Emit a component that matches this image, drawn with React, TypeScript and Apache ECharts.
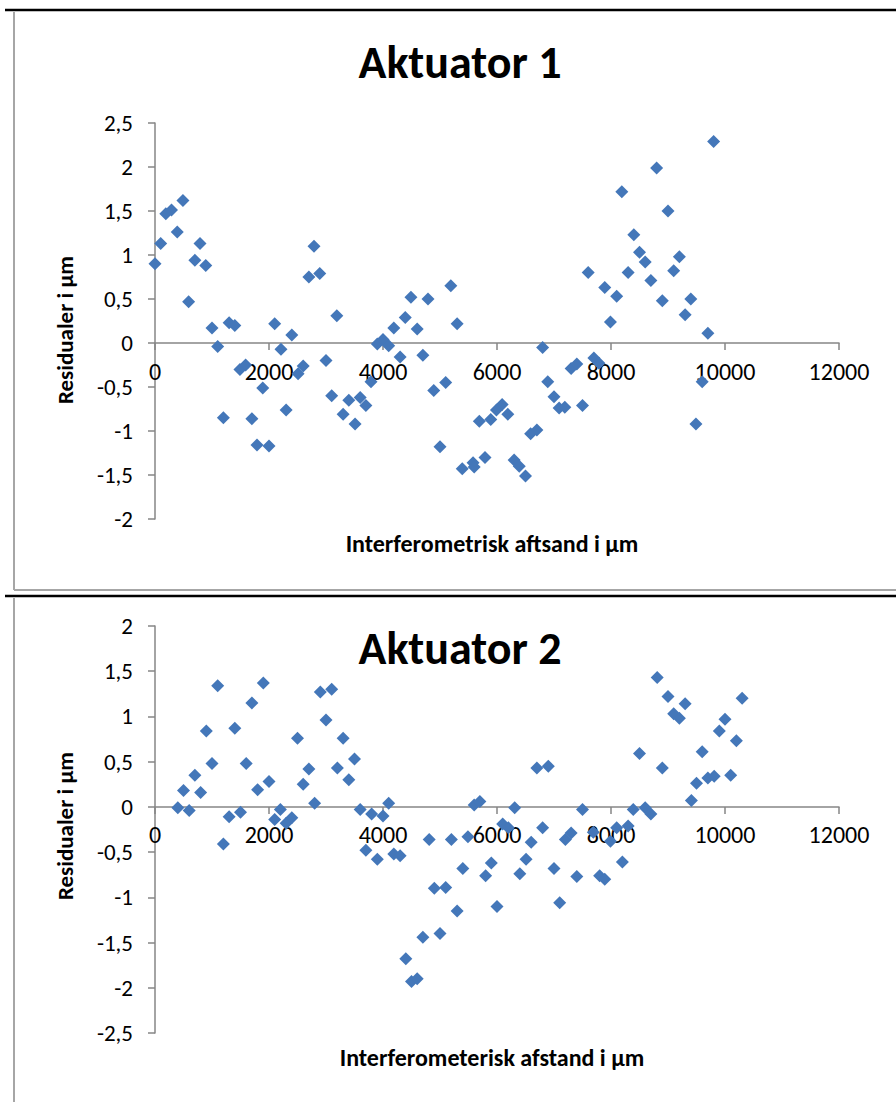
import React, { useEffect, useRef } from "react";
import * as echarts from "echarts";

// Aktuator 1 data
const xs1 = [0, 100, 190, 290, 390, 490, 590, 700, 790, 890, 1000, 1100, 1200, 1300, 1400, 1490, 1590, 1700, 1790, 1890, 2000, 2100, 2210, 2300, 2400, 2510, 2600, 2700, 2790, 2890, 3000, 3100, 3190, 3300, 3400, 3510, 3600, 3700, 3790, 3900, 4000, 4100, 4190, 4300, 4390, 4490, 4600, 4700, 4790, 4890, 5000, 5100, 5190, 5300, 5390, 5580, 5600, 5690, 5790, 5890, 5990, 6090, 6190, 6300, 6390, 6500, 6590, 6700, 6800, 6890, 7000, 7090, 7190, 7300, 7400, 7500, 7600, 7700, 7790, 7890, 7990, 8100, 8190, 8300, 8400, 8500, 8600, 8700, 8800, 8900, 9000, 9100, 9200, 9300, 9400, 9490, 9600, 9700, 9800];
const ys1 = [0.90, 1.13, 1.47, 1.51, 1.26, 1.62, 0.47, 0.94, 1.13, 0.88, 0.17, -0.04, -0.85, 0.23, 0.20, -0.30, -0.25, -0.86, -1.16, -0.51, -1.17, 0.22, -0.07, -0.76, 0.09, -0.35, -0.26, 0.75, 1.10, 0.79, -0.20, -0.60, 0.31, -0.81, -0.65, -0.92, -0.62, -0.71, -0.44, -0.01, 0.04, -0.03, 0.17, -0.16, 0.29, 0.52, 0.16, -0.14, 0.50, -0.54, -1.18, -0.45, 0.65, 0.22, -1.43, -1.36, -1.41, -0.89, -1.30, -0.87, -0.76, -0.70, -0.81, -1.33, -1.40, -1.51, -1.03, -0.99, -0.05, -0.44, -0.61, -0.74, -0.73, -0.29, -0.24, -0.71, 0.80, -0.17, -0.23, 0.63, 0.24, 0.53, 1.72, 0.80, 1.23, 1.03, 0.92, 0.71, 1.99, 0.48, 1.50, 0.82, 0.98, 0.32, 0.50, -0.92, -0.44, 0.11, 2.29];

// Aktuator 2 data
const xs2 = [400, 500, 600, 700, 800, 900, 1000, 1100, 1200, 1300, 1400, 1500, 1600, 1700, 1800, 1900, 2000, 2100, 2200, 2300, 2400, 2500, 2600, 2700, 2800, 2900, 3000, 3100, 3200, 3300, 3400, 3500, 3600, 3700, 3800, 3900, 4000, 4100, 4190, 4300, 4400, 4500, 4600, 4700, 4810, 4900, 5000, 5100, 5200, 5300, 5400, 5490, 5600, 5700, 5800, 5900, 6000, 6100, 6200, 6310, 6400, 6510, 6600, 6700, 6800, 6900, 7000, 7100, 7200, 7300, 7400, 7500, 7690, 7800, 7890, 7990, 8100, 8200, 8300, 8390, 8500, 8600, 8700, 8810, 8900, 9000, 9100, 9200, 9300, 9410, 9500, 9600, 9700, 9810, 9900, 10000, 10100, 10200, 10300];
const ys2 = [-0.01, 0.18, -0.04, 0.35, 0.16, 0.84, 0.48, 1.34, -0.41, -0.11, 0.87, -0.06, 0.48, 1.15, 0.19, 1.37, 0.28, -0.14, -0.03, -0.18, -0.12, 0.76, 0.25, 0.42, 0.04, 1.27, 0.96, 1.30, 0.43, 0.76, 0.30, 0.53, -0.03, -0.48, -0.08, -0.58, -0.10, 0.04, -0.52, -0.54, -1.68, -1.93, -1.90, -1.44, -0.36, -0.90, -1.40, -0.89, -0.36, -1.15, -0.68, -0.33, 0.02, 0.06, -0.76, -0.62, -1.10, -0.19, -0.23, -0.01, -0.74, -0.58, -0.39, 0.43, -0.23, 0.45, -0.68, -1.06, -0.36, -0.29, -0.77, -0.03, -0.28, -0.76, -0.80, -0.38, -0.23, -0.61, -0.21, -0.03, 0.59, -0.01, -0.08, 1.43, 0.43, 1.22, 1.03, 0.98, 1.14, 0.07, 0.26, 0.61, 0.32, 0.34, 0.84, 0.97, 0.35, 0.73, 1.20];

const titles = ["Aktuator 1", "Aktuator 2"];
const yNames = ["Residualer i µm", "Residualer i µm"];
const xNames = ["Interferometrisk aftsand i µm", "Interferometerisk afstand i µm"];
const yRanges = [[-2, 2.5], [-2.5, 2]];
const xRange = [0, 12000];

const FONT = "Carlito, Lato, 'Open Sans', sans-serif";
const AXIS_COLOR = "#868686";
const MARK_COLOR = "#4477b9";

export default function App() {
  const ref = useRef<HTMLDivElement>(null);
  useEffect(() => {
    document.body.style.margin = "0";
    if (!ref.current) return;
    const chart = echarts.init(ref.current, null, { renderer: "svg" });
    const grids = [
      { left: 155, top: 123, width: 684, height: 396 },
      { left: 155, top: 626, width: 684, height: 407 },
    ];
    const fmt = (v: number) => String(v).replace(".", ",");
    const xAxis = [0, 1].map((i) => {
      const [mn, mx] = yRanges[i];
      // place the x axis (line, ticks and labels) on y = 0
      const off = -grids[i].height * (0 - mn) / (mx - mn);
      return {
        type: "value",
        gridIndex: i,
        position: "bottom",
        offset: off,
        min: xRange[0],
        max: xRange[1],
        interval: 2000,
        axisLine: { show: true, onZero: false, lineStyle: { color: AXIS_COLOR, width: 1.5 } },
        axisTick: { show: true, length: 7, lineStyle: { color: AXIS_COLOR, width: 1.5 } },
        axisLabel: { fontSize: 24, color: "#000", margin: 16, fontFamily: FONT, formatter: (v: number) => String(v) },
        splitLine: { show: false },
      };
    });
    const yAxis = [0, 1].map((i) => ({
      type: "value",
      gridIndex: i,
      min: yRanges[i][0],
      max: yRanges[i][1],
      interval: 0.5,
      axisLine: { show: true, onZero: false, lineStyle: { color: AXIS_COLOR, width: 1.5 } },
      axisTick: { show: true, length: 7, lineStyle: { color: AXIS_COLOR, width: 1.5 } },
      axisLabel: { fontSize: 23, color: "#000", margin: 22, fontFamily: FONT, formatter: fmt },
      splitLine: { show: false },
    }));
    const series = [
      { xs: xs1, ys: ys1 },
      { xs: xs2, ys: ys2 },
    ].map((s, i) => ({
      type: "scatter",
      xAxisIndex: i,
      yAxisIndex: i,
      symbol: "diamond",
      symbolSize: 13,
      z: 3,
      itemStyle: { color: MARK_COLOR, opacity: 1 },
      data: s.xs.map((x, k) => [x, s.ys[k]]),
    }));
    const gray = { stroke: "#a6a6a6", lineWidth: 2 };
    const black = { stroke: "#000", lineWidth: 2.5 };
    const titleY = [62, 648];
    const yNameY = [330, 826];
    const xNameY = [543, 1057];
    const texts: any[] = [];
    [0, 1].forEach((i) => {
      texts.push({
        type: "text",
        x: 460,
        y: titleY[i],
        z: 10,
        style: { text: titles[i], font: `bold 46px ${FONT}`, fill: "#000", textAlign: "center", textVerticalAlign: "middle" },
      });
      texts.push({
        type: "text",
        x: 65,
        y: yNameY[i],
        rotation: Math.PI / 2,
        style: { text: yNames[i], font: `bold 23px ${FONT}`, fill: "#000", textAlign: "center", textVerticalAlign: "middle" },
      });
      texts.push({
        type: "text",
        x: 492,
        y: xNameY[i],
        style: { text: xNames[i], font: `bold 24px ${FONT}`, fill: "#000", textAlign: "center", textVerticalAlign: "middle" },
      });
    });
    chart.setOption({
      animation: false,
      backgroundColor: "#fff",
      grid: grids.map((g) => ({ ...g, containLabel: false })),
      xAxis,
      yAxis,
      series,
      graphic: [
        { type: "line", shape: { x1: 5, y1: 10, x2: 896, y2: 10 }, style: black },
        { type: "line", shape: { x1: 14, y1: 12, x2: 14, y2: 590 }, style: gray },
        { type: "line", shape: { x1: 14, y1: 590, x2: 896, y2: 590 }, style: gray },
        { type: "line", shape: { x1: 5, y1: 596, x2: 896, y2: 596 }, style: black },
        { type: "line", shape: { x1: 14, y1: 598, x2: 14, y2: 1102 }, style: gray },
        ...texts,
      ],
    });
    return () => chart.dispose();
  }, []);
  return <div ref={ref} style={{ width: 896, height: 1102 }} />;
}
